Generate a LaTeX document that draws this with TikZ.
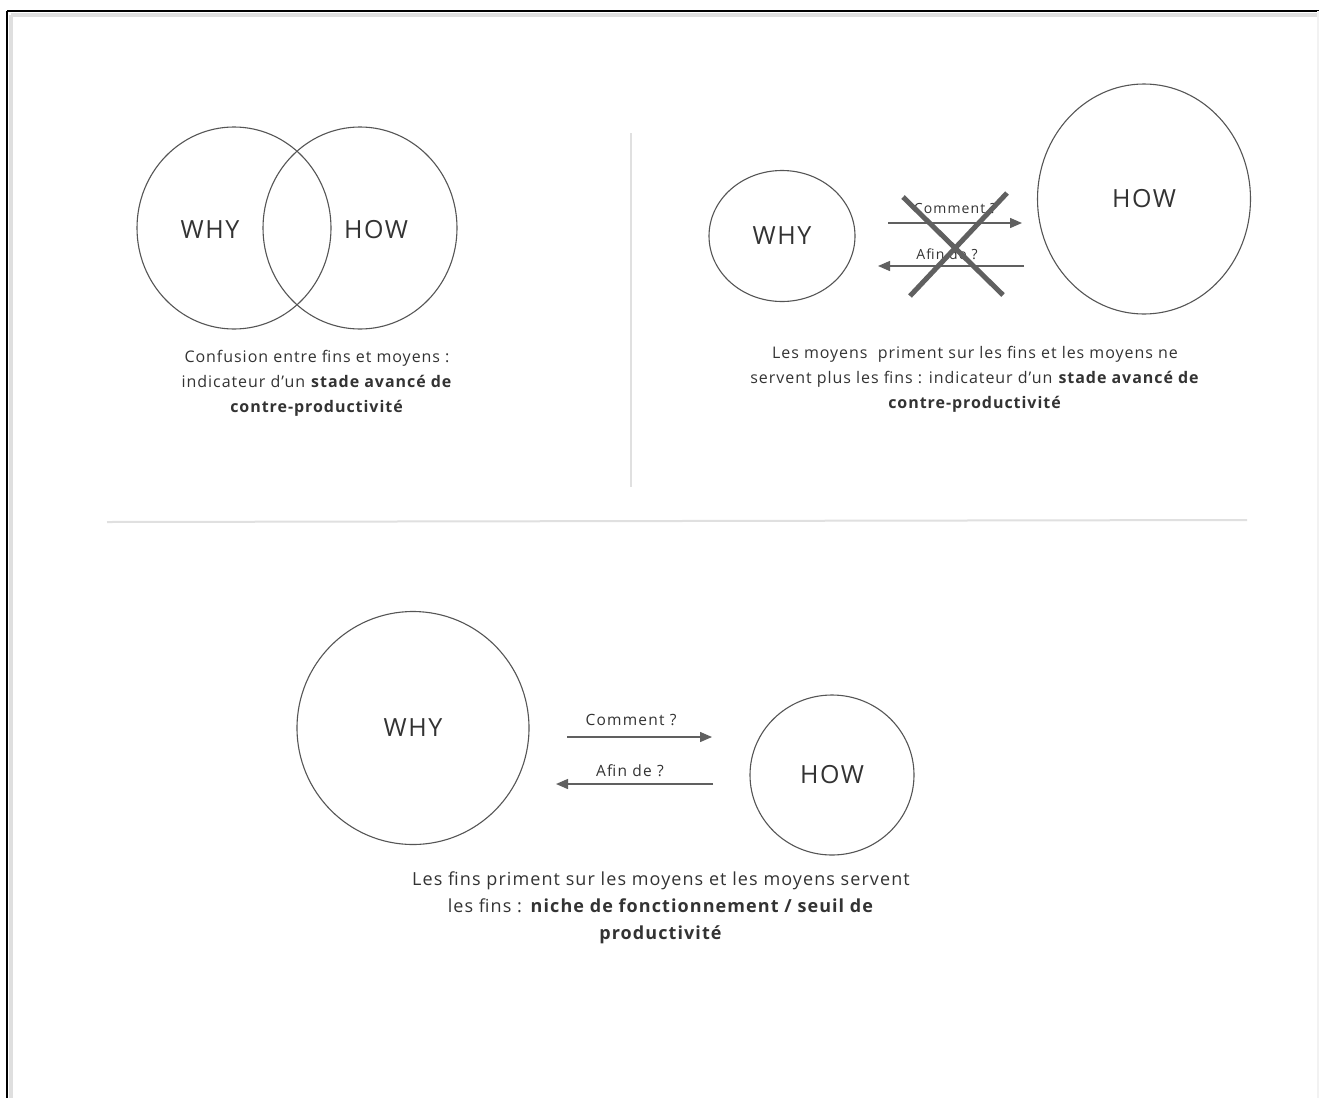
\documentclass[tikz,border=0pt]{standalone}
\usepackage{fontspec}
\setmainfont{Open Sans}
\newfontfamily\spacedA{Open Sans}[LetterSpace=6]
\newfontfamily\spacedB{Open Sans}[LetterSpace=8]
\usetikzlibrary{shapes.geometric,arrows.meta}
\definecolor{ln}{HTML}{555555}
\definecolor{arr}{HTML}{606060}
\definecolor{txt}{HTML}{333333}
\definecolor{sep}{HTML}{E0E0E0}
\tikzset{
  bubble/.style={draw=ln, line width=1.1pt, ellipse, inner sep=0pt},
  bigtext/.style={font=\spacedA\fontsize{25}{29}\selectfont, text=txt},
  smalltext/.style={font=\spacedB\fontsize{15.5}{18}\selectfont, text=txt},
  captext/.style={align=center, text=txt},
  flowarrow/.style={draw=arr, line width=1.4pt, -{Triangle[length=12pt,width=10pt]}},
  crossline/.style={draw=arr, line width=5pt},
  sepline/.style={draw=sep, line width=2pt},
}
\begin{document}
\begin{tikzpicture}[x=1pt,y=-1pt]
\useasboundingbox (0,0) rectangle (1319,1098);
\fill[white] (0,0) rectangle (1319,1098);
% frame
\draw[gray!25, line width=4pt] (11,15) -- (1319,15);
\draw[gray!25, line width=4pt] (11,15) -- (11,1098);
\draw[black, line width=2pt] (7,11) -- (1319,11);
\draw[black, line width=2pt] (7,11) -- (7,1098);
\draw[gray!10, line width=2pt] (1318,11) -- (1318,1098);
% separators
\draw[sepline] (631,133) -- (631,487);
\draw[sepline] (107,522) -- (1247,520);

% --- top left
\node[bubble, minimum width=194pt, minimum height=202pt] (tlwhy) at (234,228) {};
\node[bubble, minimum width=194pt, minimum height=202pt] (tlhow) at (360,228) {};
\node[bigtext] (tlwhyt) at (210,230) {WHY};
\node[bigtext] (tlhowt) at (376,230) {HOW};
\node[captext, font=\spacedA\fontsize{16}{25}\selectfont] (tlcap) at (317,383) {Confusion entre fins et moyens :\\indicateur d’un \textbf{stade avancé de}\\\textbf{contre-productivité}};

% --- top right
\node[bubble, minimum width=146pt, minimum height=131pt, bigtext] (trwhy) at (782,236) {WHY};
\node[bubble, minimum width=213pt, minimum height=230pt, bigtext] (trhow) at (1144,199) {HOW};
\coordinate (c1s) at (888,223);
\coordinate (c1e) at (1022,223);
\coordinate (a1s) at (1024,266);
\coordinate (a1e) at (878,266);
\draw[flowarrow] (c1s) -- (c1e);
\draw[flowarrow] (a1s) -- (a1e);
\node[smalltext, font=\spacedB\fontsize{14}{16}\selectfont] (trcom) at (955,209) {Comment ?};
\node[smalltext, font=\spacedB\fontsize{14}{16}\selectfont] (trafin) at (947,254) {Afin de ?};
\coordinate (x1) at (903,197);
\coordinate (x2) at (1003,295);
\coordinate (x3) at (1007,193);
\coordinate (x4) at (910,296);
\draw[crossline] (x1) -- (x2);
\draw[crossline] (x3) -- (x4);
\node[captext, font=\spacedA\fontsize{16}{25}\selectfont] (trcap) at (975,379) {Les moyens \ priment sur les fins et les moyens ne\\servent plus les fins : indicateur d’un \textbf{stade avancé de}\\\textbf{contre-productivité}};

% --- bottom
\node[bubble, minimum width=232pt, minimum height=233pt, bigtext] (bwhy) at (413,728) {WHY};
\node[bubble, minimum width=164pt, minimum height=160pt, bigtext] (bhow) at (832,775) {HOW};
\coordinate (c2s) at (567,737);
\coordinate (c2e) at (712,737);
\coordinate (a2s) at (713,784);
\coordinate (a2e) at (556,784);
\draw[flowarrow] (c2s) -- (c2e);
\draw[flowarrow] (a2s) -- (a2e);
\node[smalltext] (bcom) at (631,720) {Comment ?};
\node[smalltext] (bafin) at (630,771) {Afin de ?};
\node[captext, font=\spacedA\fontsize{18}{27}\selectfont] (bcap) at (661,908) {Les fins priment sur les moyens et les moyens servent\\les fins : \textbf{niche de fonctionnement / seuil de}\\\textbf{productivité}};
\end{tikzpicture}
\end{document}
